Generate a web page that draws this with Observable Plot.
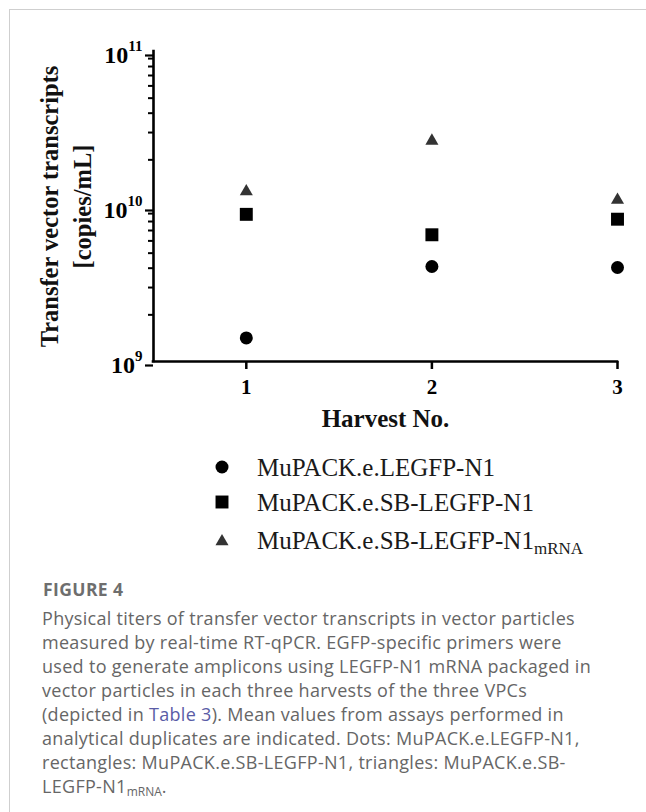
<!DOCTYPE html>
<html>
<head>
<meta charset="utf-8">
<script src="https://cdn.jsdelivr.net/npm/d3@7"></script>
<script src="https://cdn.jsdelivr.net/npm/@observablehq/plot@0.6"></script>
<style>
  html, body { margin: 0; padding: 0; background: #fff; }
  body { width: 646px; height: 812px; position: relative; overflow: hidden; }
  #frame { position: absolute; left: 9px; top: 9px; width: 640px; height: 810px;
           border-left: 1px solid #cfcfcf; border-top: 1px solid #cfcfcf; }
  #chart { position: absolute; left: 0; top: 0; }
  #legend { position: absolute; left: 0; top: 440px; }
  #figlabel { position: absolute; left: 43px; top: 577px; font-family: "Open Sans", sans-serif;
              font-weight: 700; font-size: 17.5px; line-height: 24px; color: #6e6e6e; letter-spacing: 0.4px; }
  #caption { position: absolute; left: 42px; top: 606px; font-family: "Open Sans", sans-serif;
             font-size: 18px; line-height: 24px; color: #666; white-space: nowrap; letter-spacing: 0.3px; }
  #caption a { color: #5a5ca6; text-decoration: none; }
  #caption sub { font-size: 12px; vertical-align: -3px; line-height: 0; letter-spacing: 0; }
</style>
</head>
<body>
<div id="frame"></div>
<div id="chart"></div>
<svg id="legend" width="646" height="130"></svg>
<div id="figlabel">FIGURE 4</div>
<div id="caption"></div>
<script>
// ---- data ----
const harvests = [1, 2, 3];
const seriesNames = ["MuPACK.e.LEGFP-N1", "MuPACK.e.SB-LEGFP-N1", "MuPACK.e.SB-LEGFP-N1"];
const seriesSubs = ["", "", "mRNA"];
const legfp = [1.42e9, 4.1e9, 4.04e9];
const sbLegfp = [8.9e9, 6.57e9, 8.28e9];
const sbLegfpMrna = [1.25e10, 2.65e10, 1.10e10];
const yMajorTicks = [1e9, 1e10, 1e11];
const yMinorTicks = [2e9, 3e9, 4e9, 5e9, 6e9, 7e9, 8e9, 9e9, 2e10, 3e10, 4e10, 5e10, 6e10, 7e10, 8e10, 9e10];
const xTicks = [1, 2, 3];
const yLabel = "Transfer vector transcripts\n[copies/mL]";
const xLabel = "Harvest No.";

const symbols = ["circle", "square", "triangle"];
const fills = ["#000", "#000", "#333"];
const radii = [6.5, 7.3, 4.85];
const seriesValues = [legfp, sbLegfp, sbLegfpMrna];

const rows = seriesValues.map(vals => harvests.map((h, i) => ({harvest: h, value: vals[i]})));

const serif = "'Liberation Serif', 'Times New Roman', serif";

const plot = Plot.plot({
  width: 646,
  height: 440,
  marginLeft: 153,
  marginRight: 29,
  marginTop: 51,
  marginBottom: 79,
  style: {fontFamily: serif, fontWeight: "bold", fontSize: "22px", background: "transparent", color: "#000", overflow: "visible"},
  x: {domain: [0.5, 3]},
  y: {type: "log", domain: [1e9, 1e11]},
  marks: [
    Plot.axisY({ticks: yMinorTicks, tickSize: 5, tickFormat: () => "", strokeWidth: 2, label: null}),
    Plot.axisY({ticks: yMajorTicks, tickSize: 8, tickPadding: 3, dy: 4, strokeWidth: 2.2, fontSize: 24, fontWeight: "bold",
                tickFormat: d => "10|" + Math.round(Math.log10(d)), label: null}),
    Plot.axisX({ticks: xTicks, tickSize: 8, tickPadding: 10, strokeWidth: 2.5, fontSize: 21, fontWeight: "bold",
                tickFormat: d => String(d), label: null}),
    Plot.ruleX([0.5], {strokeWidth: 2.6, strokeLinecap: "square"}),
    Plot.ruleY([1e9], {strokeWidth: 2.6, strokeLinecap: "square"}),
    Plot.text([yLabel], {frameAnchor: "left", textAnchor: "middle", lineAnchor: "middle", dx: -89.5, rotate: -90,
                         fontSize: 24.5, lineHeight: 1.35, fontWeight: "bold", fill: "#111"}),
    Plot.text([xLabel], {frameAnchor: "bottom", lineAnchor: "middle", dy: 57, fontSize: 25, fontWeight: "bold", fill: "#111"}),
    ...rows.map((r, i) => Plot.dot(r, {x: "harvest", y: "value", symbol: symbols[i], r: radii[i], fill: fills[i], stroke: "none"}))
  ]
});
document.getElementById("chart").appendChild(plot);

// superscript exponents on y tick labels
plot.querySelectorAll('g[aria-label="y-axis tick label"] text').forEach(t => {
  const s = t.textContent;
  if (!s.includes("|")) return;
  const [b, e] = s.split("|");
  t.textContent = b;
  const ts = document.createElementNS("http://www.w3.org/2000/svg", "tspan");
  ts.setAttribute("dy", "-12");
  ts.setAttribute("font-size", "15");
  ts.textContent = e;
  t.appendChild(ts);
});

// legend
const leg = d3.select("#legend");
const rowY = [27, 62, 100];
const d3sym = {circle: d3.symbolCircle, square: d3.symbolSquare, triangle: d3.symbolTriangle};
seriesNames.forEach((name, i) => {
  leg.append("path")
    .attr("transform", `translate(222,${rowY[i] + (symbols[i] === "triangle" ? 1.5 : 0)})`)
    .attr("d", d3.symbol(d3sym[symbols[i]], Math.PI * radii[i] * radii[i])())
    .attr("fill", fills[i]);
  const t = leg.append("text")
    .attr("x", 257).attr("y", rowY[i] + 8.5)
    .attr("font-family", serif).attr("font-size", 25).attr("fill", "#1a1a1a")
    .text(name);
  if (seriesSubs[i]) {
    t.append("tspan").attr("dy", 5).attr("font-size", 17).text(seriesSubs[i]);
  }
});

// caption
document.getElementById("caption").innerHTML = [
  "Physical titers of transfer vector transcripts in vector particles",
  "measured by real-time RT-qPCR. EGFP-specific primers were",
  "used to generate amplicons using LEGFP-N1 mRNA packaged in",
  "vector particles in each three harvests of the three VPCs",
  "(depicted in <a>Table 3</a>). Mean values from assays performed in",
  "analytical duplicates are indicated. Dots: MuPACK.e.LEGFP-N1,",
  "rectangles: MuPACK.e.SB-LEGFP-N1, triangles: MuPACK.e.SB-",
  "LEGFP-N1<sub>mRNA</sub>."
].join("<br>");
</script>
</body>
</html>
